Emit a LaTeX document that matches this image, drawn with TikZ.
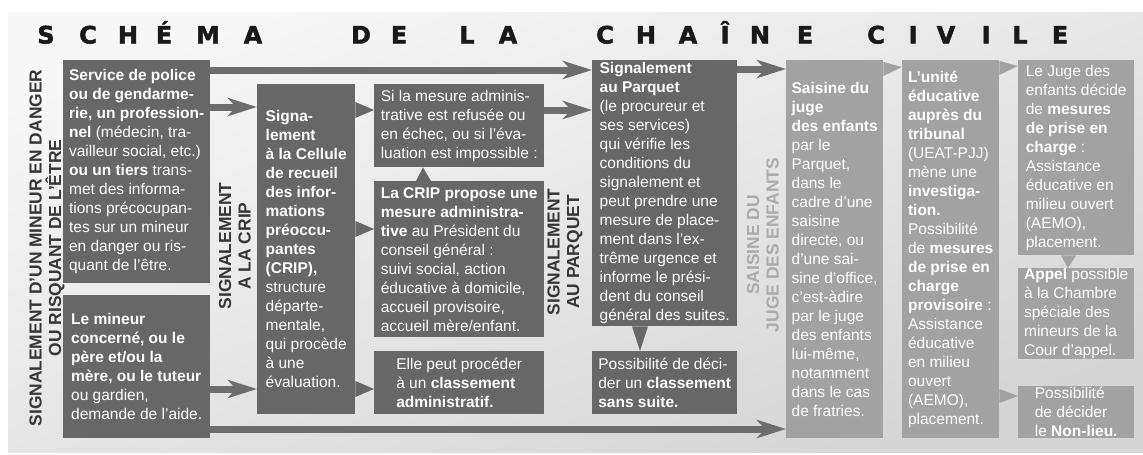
\documentclass[tikz,border=0pt]{standalone}
\usepackage{fontspec}
\setmainfont{Liberation Sans}
\newfontfamily\titlefont[BoldFeatures={FakeBold=2}]{DejaVu Sans}
\usepackage{tikz}
\usetikzlibrary{calc}
\usetikzlibrary{arrows.meta}

\definecolor{boxdark}{HTML}{676767}
\definecolor{boxlight}{HTML}{A2A2A2}
\definecolor{bandgray}{HTML}{6D6D6D}
\definecolor{labelgray}{HTML}{363636}
\definecolor{labellight}{HTML}{ABABAB}
\definecolor{bgtop}{HTML}{F7F7F7}
\definecolor{bgbottom}{HTML}{D5D5D5}

\begin{document}
\begin{tikzpicture}[x=1pt, y=-1pt, line join = round, >={Stealth[length=29pt,width=18pt,inset=8pt]}]
\tikzstyle{box}=[anchor=north west, inner sep=0pt, align=left, text=white, font=\fontsize{15.5}{19}\selectfont]
\tikzstyle{darkbox}=[box, fill=boxdark]
\tikzstyle{lightbox}=[box, fill=boxlight]
\tikzstyle{side}=[rotate=90, align=center, text=labelgray, font=\bfseries\fontsize{17.4}{19.5}\selectfont]
\tikzstyle{band}=[line width=7pt, draw=bandgray, ->]
\tikzstyle{letter}=[anchor=base, text=black!90, font=\titlefont\bfseries\fontsize{24}{24}\selectfont]

\useasboundingbox (0,0) rectangle (1143,455);
\shade[top color=bgtop, bottom color=bgbottom, shading angle=20] (8,12) rectangle (1143,452);

% titre
\foreach \ch/\xpos [count=\i] in {S/46, C/88, H/128, É/164, M/208, A/253, D/361, E/399, L/467, A/508,
  C/605, H/646, A/688, Î/725, N/760, E/805, C/876, I/913, V/946, I/986, L/1020, E/1060}
  \node[letter] (title\i) at (\xpos,43.5) {\ch};

% etiquettes verticales
\node[side] (lbsignal) at (47,248) {SIGNALEMENT D’UN MINEUR EN DANGER\\OU RISQUANT DE L’ÊTRE};
\node[side] (lbcrip) at (235,246) {SIGNALEMENT\\A LA CRIP};
\node[side] (lbparquet) at (565,252) {SIGNALEMENT\\AU PARQUET};
\node[side, text=labellight] (lbjuge) at (763,245) {SAISINE DU\\JUGE DES ENFANTS};

% colonne 1
\node[darkbox, minimum width=147pt, minimum height=223pt] (police) at (63,60) {\textbf{Service de police}\\
\textbf{ou de gendarme-}\\ \textbf{rie, un profession-}\\ \textbf{nel} (médecin, tra-\\ vailleur social, etc.)\\
\textbf{ou un tiers} trans-\\ met des informa-\\ tions précocupan-\\ tes sur un mineur\\ en danger ou ris-\\ quant de l’être.};
\node[darkbox, minimum width=147pt, minimum height=143pt] (mineur) at (63,295) {\textbf{Le mineur}\\
\textbf{concerné, ou le}\\ \textbf{père et/ou la}\\ \textbf{mère, ou le tuteur}\\ ou gardien,\\ demande de l’aide.};

% CRIP
\node[darkbox, minimum width=98pt, minimum height=330pt] (crip) at (257,84) {\textbf{Signa-}\\ \textbf{lement}\\
\textbf{à la Cellule}\\ \textbf{de recueil}\\ \textbf{des infor-}\\ \textbf{mations}\\ \textbf{préoccu-}\\ \textbf{pantes}\\
\textbf{(CRIP),}\\ structure\\ départe-\\ mentale,\\ qui procède\\ à une\\ évaluation.};
\node[darkbox, minimum width=170pt, minimum height=83pt] (refus) at (374,84) {Si la mesure adminis-\\
trative est refusée ou\\ en échec, ou si l’éva-\\ luation est impossible :};
\node[darkbox, minimum width=170pt, minimum height=156pt] (propose) at (374,181) {\textbf{La CRIP propose une}\\
\textbf{mesure administra-}\\ \textbf{tive} au Président du\\ conseil général :\\ suivi social, action\\
éducative à domicile,\\ accueil provisoire,\\ accueil mère/enfant.};
\node[darkbox, minimum width=170pt, minimum height=63pt] (classement) at (374,351) {Elle peut procéder\\
à un \textbf{classement}\\ \textbf{administratif.}};

% Parquet
\node[darkbox, minimum width=145pt, minimum height=266pt] (parquet) at (592,60) {\textbf{Signalement}\\
\textbf{au Parquet}\\ (le procureur et\\ ses services)\\ qui vérifie les\\ conditions du\\ signalement et\\
peut prendre une\\ mesure de place-\\ ment dans l’ex-\\ trême urgence et\\ informe le prési-\\ dent du conseil\\
général des suites.};
\node[darkbox, minimum width=145pt, minimum height=63pt] (sanssuite) at (592,351) {Possibilité de déci-\\
der un \textbf{classement}\\ \textbf{sans suite.}};

% juge des enfants
\node[lightbox, minimum width=97pt, minimum height=378pt] (saisine) at (786,60) {\textbf{Saisine du}\\ \textbf{juge}\\
\textbf{des enfants}\\ par le\\ Parquet,\\ dans le\\ cadre d’une\\ saisine\\ directe, ou\\ d’une sai-\\
sine d’office,\\ c’est-àdire\\ par le juge\\ des enfants\\ lui-même,\\ notamment\\ dans le cas\\ de fratries.};
\node[lightbox, minimum width=97pt, minimum height=378pt] (unite) at (902,60) {\textbf{L’unité}\\ \textbf{éducative}\\
\textbf{auprès du}\\ \textbf{tribunal}\\ (UEAT-PJJ)\\ mène une\\ \textbf{investiga-}\\ \textbf{tion.}\\ Possibilité\\
de \textbf{mesures}\\ \textbf{de prise en}\\ \textbf{charge}\\ \textbf{provisoire} :\\ Assistance\\ éducative\\
en milieu\\ ouvert\\ (AEMO),\\ placement.};
\node[lightbox, minimum width=116pt, minimum height=195pt] (jugedecide) at (1018,60) {Le Juge des\\
enfants décide\\ de \textbf{mesures}\\ \textbf{de prise en}\\ \textbf{charge} :\\ Assistance\\ éducative en\\
milieu ouvert\\ (AEMO),\\ placement.};
\node[lightbox, minimum width=116pt, minimum height=87pt] (appel) at (1018,268) {\textbf{Appel} possible\\
à la Chambre\\ spéciale des\\ mineurs de la\\ Cour d’appel.};
\node[lightbox, minimum width=116pt, minimum height=52pt] (nonlieu) at (1018,386) {Possibilité\\
de décider\\ le \textbf{Non-lieu.}};

% fleches
\draw[band] (police.east |- 0,70) -- (parquet.west |- 0,70);
\draw[band] (police.east |- 0,107) -- (crip.west |- 0,107);
\draw[band] (mineur.east |- 0,389) -- (crip.west |- 0,389);
\draw[band] (mineur.east |- 0,429) -- (saisine.west |- 0,429);
\draw[band] (refus.east |- 0,110) -- (parquet.west |- 0,110);
\draw[band] (parquet.east |- 0,69) -- (saisine.west |- 0,69);

% pointes
\fill[boxdark] (crip.east |- 0,102) -- (crip.east |- 0,118) -- (refus.west |- 0,110) -- cycle;
\fill[boxdark] (crip.east |- 0,221) -- (crip.east |- 0,237) -- (propose.west |- 0,229) -- cycle;
\fill[boxdark] (crip.east |- 0,381) -- (crip.east |- 0,397) -- (classement.west |- 0,389) -- cycle;
\fill[boxdark] (propose.north -| 416,0) -- (propose.north -| 431,0) -- (refus.south -| 423,0) -- cycle;
\fill[boxdark] (parquet.south -| 632,0) -- (parquet.south -| 648,0) -- (sanssuite.north -| 640,0) -- cycle;
\fill[boxlight] (saisine.east |- 0,62) -- (saisine.east |- 0,76) -- (unite.west |- 0,67) -- cycle;
\fill[boxlight] (unite.east |- 0,61) -- (unite.east |- 0,75) -- (jugedecide.west |- 0,66) -- cycle;
\fill[boxlight] (unite.east |- 0,389) -- (unite.east |- 0,403) -- (nonlieu.west |- 0,396) -- cycle;
\fill[boxlight] (jugedecide.south -| 1061,0) -- (jugedecide.south -| 1076,0) -- (appel.north -| 1068,0) -- cycle;
\end{tikzpicture}
\end{document}
